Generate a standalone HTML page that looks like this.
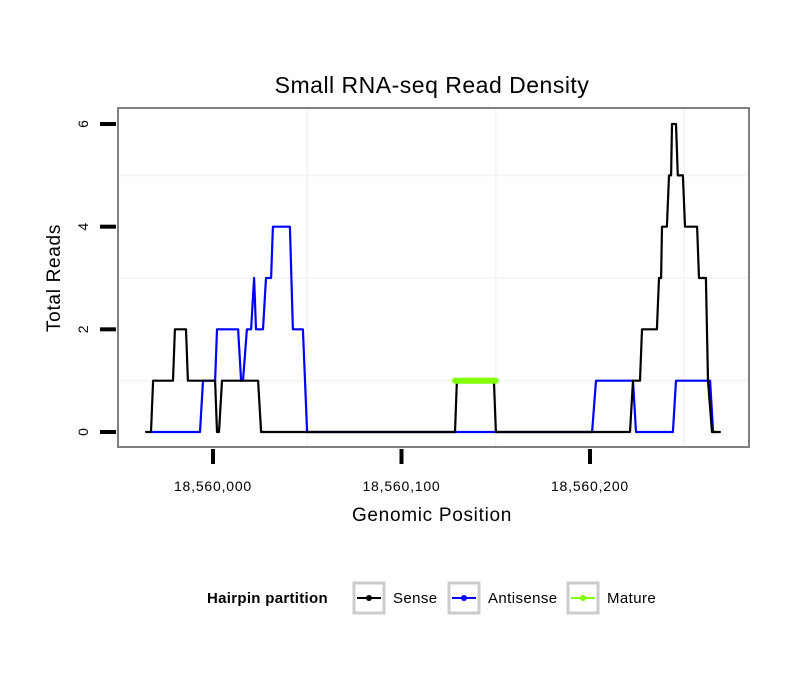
<!DOCTYPE html>
<html><head><meta charset="utf-8"><style>
body{margin:0;background:#fff;}
svg{display:block;font-family:"Liberation Sans",sans-serif;}
</style></head><body>
<svg id="c" width="810" height="690" viewBox="0 0 810 690">
<rect width="810" height="690" fill="#fff"/>
<text x="432" y="93" font-size="23" letter-spacing="0.5" text-anchor="middle">Small RNA-seq Read Density</text>
<g id="grid"></g>
<g id="series"></g>
<rect x="118" y="108" width="631" height="339" fill="none" stroke="#808080" stroke-width="2"/>
<g id="axes"></g>
<text x="432" y="521" font-size="19" letter-spacing="0.7" text-anchor="middle">Genomic Position</text>
<text transform="translate(60,278) rotate(-90)" font-size="19" letter-spacing="0.7" text-anchor="middle">Total Reads</text>
<g>
<text x="207" y="603" font-size="15" font-weight="bold" letter-spacing="0.3">Hairpin partition</text>
<g>
<rect x="354" y="583" width="30" height="30" fill="#fff" stroke="#ccc" stroke-width="3"/>
<line x1="357" y1="598" x2="381" y2="598" stroke="#000" stroke-width="2"/><circle cx="369" cy="598" r="3" fill="#000"/>
<text x="393" y="603" font-size="15" letter-spacing="0.4">Sense</text></g>
<g>
<rect x="449" y="583" width="30" height="30" fill="#fff" stroke="#ccc" stroke-width="3"/>
<line x1="452" y1="598" x2="476" y2="598" stroke="#00f" stroke-width="2"/><circle cx="464" cy="598" r="3" fill="#00f"/>
<text x="488" y="603" font-size="15" letter-spacing="0.4">Antisense</text></g>
<g>
<rect x="568" y="583" width="30" height="30" fill="#fff" stroke="#ccc" stroke-width="3"/>
<line x1="571" y1="598" x2="595" y2="598" stroke="#7fff00" stroke-width="2"/><circle cx="583" cy="598" r="3" fill="#7fff00"/>
<text x="607" y="603" font-size="15" letter-spacing="0.4">Mature</text></g>
</g>
</svg>
<script>
// offsets from 18,560,000 bp
const senseX=[-35.5,-32.9,-31.8,-21.2,-20.2,-14.3,-13.3,1.1,2.1,3.2,4.8,23.9,25.5,128.4,129.4,149,150.1,221.2,222.8,226.5,227.6,235.5,236.6,237.7,238.2,240.8,241.9,243,243.5,245.6,246.6,249.3,250.4,256.8,257.8,261.5,262.6,264.7,268.9];
const senseY=[0,0,1,1,2,2,1,1,0,0,1,1,0,0,1,1,0,0,1,1,2,2,3,3,4,4,5,5,6,6,5,5,4,4,3,3,1,0,0];
const antiX=[-32.9,-6.9,-5.3,1.1,2.1,13.3,14.9,15.9,18.0,20.2,21.8,22.8,26.5,28.1,30.8,31.8,40.8,42.4,47.7,49.9,201.1,203.2,222.8,224.4,244.0,245.6,263.7,265.3,266.8];
const antiY=[0,0,1,1,2,2,1,1,2,2,3,2,2,3,3,4,4,2,2,0,0,1,1,0,0,1,1,0,0];
const matureX=[128.4,150.1];
const matureY=[1,1];
const xTicks=[0,100,200];
const xTickLabels=["18,560,000","18,560,100","18,560,200"];
const yTicks=[0,2,4,6];
const NS="http://www.w3.org/2000/svg";
const sx=v=>213+v*1.885;
const sy=v=>432-v*51.33;
function mk(tag,attrs,parent){const e=document.createElementNS(NS,tag);for(const k in attrs)e.setAttribute(k,attrs[k]);parent.appendChild(e);return e;}
const grid=document.getElementById('grid'),ser=document.getElementById('series'),axes=document.getElementById('axes');
mk('rect',{x:118,y:108,width:631,height:339,fill:'#fff'},grid);
[50,150,250].forEach(v=>{const l=mk('line',{x1:sx(v),x2:sx(v),y1:108,y2:447,stroke:'#f5f5f5','stroke-width':2},grid);

});
[1,3,5].forEach(v=>{const l=mk('line',{x1:118,x2:749,y1:sy(v),y2:sy(v),stroke:'#f5f5f5','stroke-width':2},grid);

});
function path(xs,ys,color,w,name){const d=xs.map((x,i)=>(i?'L':'M')+sx(x).toFixed(1)+','+sy(ys[i]).toFixed(1)).join('');
const p=mk('path',{d:d,fill:'none',stroke:color,'stroke-width':w,'stroke-linejoin':'round','stroke-linecap':'round'},ser);

}
path(antiX,antiY,'#00f',2.2,'antisense-line');
path(senseX,senseY,'#000',2.2,'sense-line');
path(matureX,matureY,'#7fff00',6,'mature-line');
xTicks.forEach((v,i)=>{const t=mk('line',{x1:sx(v),x2:sx(v),y1:449,y2:464,stroke:'#000','stroke-width':4},axes);


const l=mk('text',{x:sx(v),y:491,'font-size':14,'letter-spacing':0.8,'text-anchor':'middle'},axes);l.textContent=xTickLabels[i];

});
yTicks.forEach(v=>{const t=mk('line',{x1:100,x2:116,y1:sy(v),y2:sy(v),stroke:'#000','stroke-width':4},axes);


const l=mk('text',{transform:'translate(88,'+sy(v)+') rotate(-90)','font-size':14,'text-anchor':'middle'},axes);l.textContent=v;

});
</script>
</body></html>
